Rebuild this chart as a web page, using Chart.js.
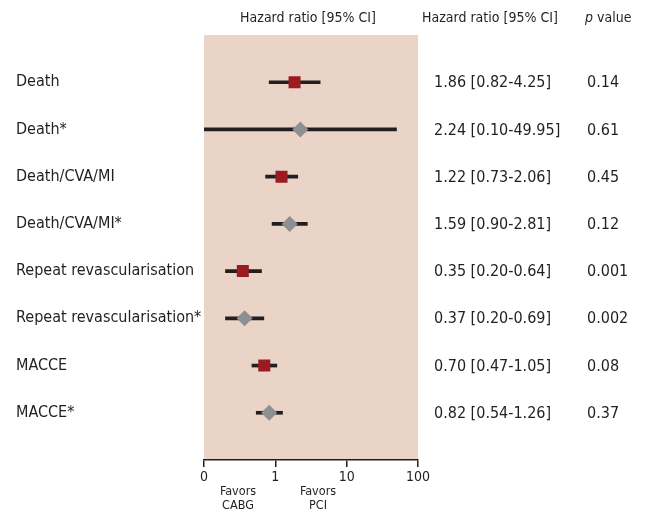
<!DOCTYPE html>
<html>
<head>
<meta charset="utf-8">
<script src="https://cdn.jsdelivr.net/npm/chart.js@4.4.1/dist/chart.umd.min.js"></script>
<style>
  html, body { margin: 0; padding: 0; background: #fff; }
</style>
</head>
<body>
<canvas id="chart" width="646" height="513"></canvas>
<script>
// Forest plot data
const outcomes = ['Death', 'Death*', 'Death/CVA/MI', 'Death/CVA/MI*', 'Repeat revascularisation', 'Repeat revascularisation*', 'MACCE', 'MACCE*'];
const hazardRatios = [1.86, 2.24, 1.22, 1.59, 0.35, 0.37, 0.70, 0.82];
const ciLow = [0.82, 0.10, 0.73, 0.90, 0.20, 0.20, 0.47, 0.54];
const ciHigh = [4.25, 49.95, 2.06, 2.81, 0.64, 0.69, 1.05, 1.26];
const pValues = ['0.14', '0.61', '0.45', '0.12', '0.001', '0.002', '0.08', '0.37'];
const xTickValues = [0.1, 1, 10, 100];
const xTickLabels = ['0', '1', '10', '100'];

const FONT = '"Liberation Sans Narrow", "DejaVu Sans Condensed", "Roboto", sans-serif';
const INK = '#231f20';

// empty slots above and below the rows
const rowLabels = [' ', ...outcomes, '  '];
const isAdjusted = (name) => name.endsWith('*');

const ciData = outcomes.map((name, i) => ({ x: [ciLow[i], ciHigh[i]], y: name }));
const squareData = outcomes
  .map((name, i) => ({ x: hazardRatios[i], y: name }))
  .filter((d) => !isAdjusted(d.y));
const diamondData = outcomes
  .map((name, i) => ({ x: hazardRatios[i], y: name }))
  .filter((d) => isAdjusted(d.y));

// Shaded plot area + text columns
const forestPlugin = {
  id: 'forest',
  beforeDraw(chart) {
    const { ctx, chartArea } = chart;
    ctx.save();
    ctx.fillStyle = '#ead3c7';
    ctx.fillRect(chartArea.left, chartArea.top, chartArea.right - chartArea.left, chartArea.bottom - chartArea.top - 1);
    ctx.restore();
  },
  afterDraw(chart) {
    const { ctx } = chart;
    const yScale = chart.scales.y;
    ctx.save();
    ctx.fillStyle = INK;
    ctx.textBaseline = 'middle';

    // headers
    ctx.font = `14px ${FONT}`;
    ctx.textAlign = 'center';
    ctx.fillText('Hazard ratio [95% CI]', 308, 18);
    ctx.textAlign = 'left';
    ctx.fillText('Hazard ratio [95% CI]', 422, 18);
    ctx.font = `italic 14px ${FONT}`;
    ctx.fillText('p', 585, 18);
    const pw = ctx.measureText('p ').width;
    ctx.font = `14px ${FONT}`;
    ctx.fillText('value', 585 + pw, 18);

    // hazard ratio and p value columns
    ctx.font = `16px ${FONT}`;
    outcomes.forEach((name, i) => {
      const y = yScale.getPixelForValue(i + 1) + 1;
      const txt = `${hazardRatios[i].toFixed(2)} [${ciLow[i].toFixed(2)}-${ciHigh[i].toFixed(2)}]`;
      ctx.fillText(txt, 434, y);
      ctx.fillText(pValues[i], 587, y);
    });

    // favours labels under the axis
    ctx.font = `12.5px ${FONT}`;
    ctx.textAlign = 'center';
    ctx.fillText('Favors', 238, 492);
    ctx.fillText('CABG', 238, 506);
    ctx.fillText('Favors', 318, 492);
    ctx.fillText('PCI', 318, 506);
    ctx.restore();
  },
};

new Chart(document.getElementById('chart'), {
  type: 'bar',
  data: {
    labels: rowLabels,
    datasets: [
      {
        type: 'line',
        data: squareData,
        showLine: false,
        pointStyle: 'rect',
        pointRadius: 8.5,
        pointBackgroundColor: '#9b1b20',
        pointBorderWidth: 0,
        order: 0,
      },
      {
        type: 'line',
        data: diamondData,
        showLine: false,
        pointStyle: 'rectRot',
        pointRadius: 8,
        pointBackgroundColor: '#8e8f93',
        pointBorderWidth: 0,
        order: 1,
      },
      {
        type: 'bar',
        indexAxis: 'y',
        data: ciData,
        backgroundColor: INK,
        borderWidth: 0,
        barThickness: 3,
        order: 2,
      },
    ],
  },
  options: {
    responsive: false,
    animation: false,
    layout: { padding: { left: 16, right: 228, top: 35, bottom: 0 } },
    plugins: { legend: { display: false }, tooltip: { enabled: false } },
    scales: {
      x: {
        type: 'logarithmic',
        position: 'bottom',
        offset: false,
        min: 0.1,
        max: 100,
        afterBuildTicks: (scale) => {
          scale.ticks = xTickValues.map((v) => ({ value: v }));
        },
        afterFit: (scale) => {
          scale.height = 53;
        },
        ticks: {
          callback: (value, index) => xTickLabels[index],
          color: INK,
          font: { family: FONT, size: 14 },
          padding: 2,
          maxRotation: 0,
        },
        grid: { offset: false, drawOnChartArea: false, drawTicks: true, tickLength: 7, color: INK, lineWidth: 1.5 },
        border: { display: true, color: INK, width: 1.5 },
      },
      y: {
        type: 'category',
        offset: false,
        afterFit: (scale) => {
          scale.width = 188;
        },
        ticks: {
          crossAlign: 'far',
          color: INK,
          font: { family: FONT, size: 16 },
          autoSkip: false,
        },
        grid: { display: false },
        border: { display: false },
      },
    },
  },
  plugins: [forestPlugin],
});
</script>
</body>
</html>
